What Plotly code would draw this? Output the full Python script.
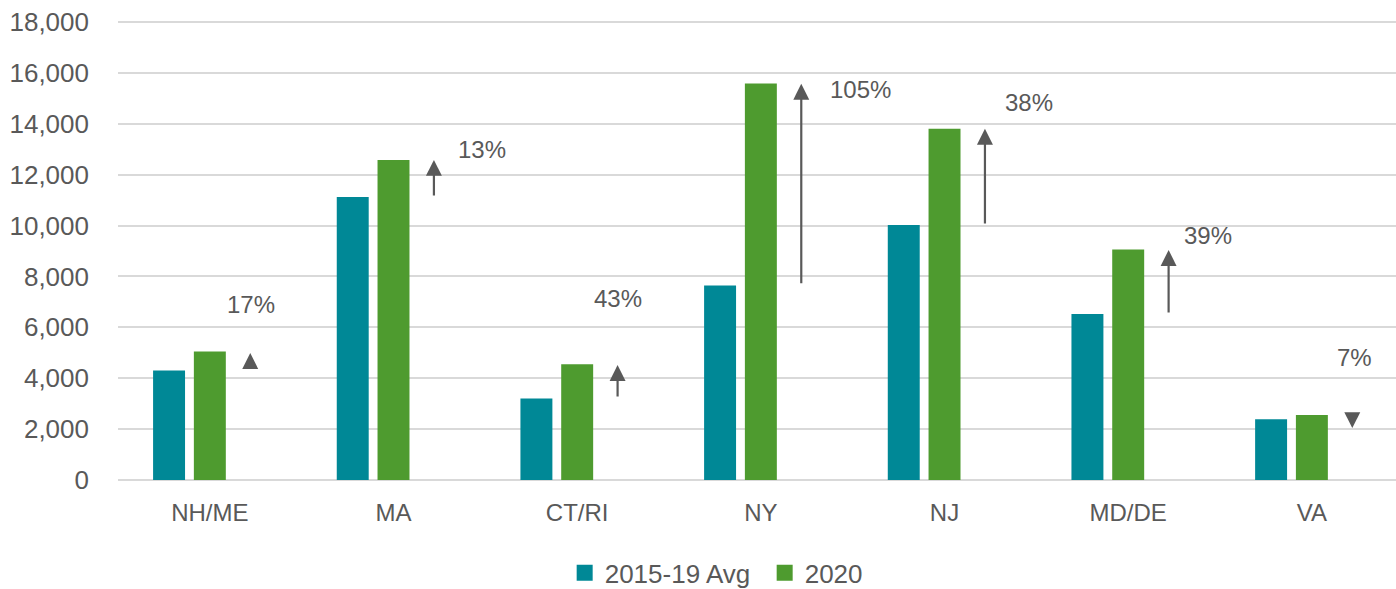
import plotly.graph_objects as go

# ---- data ----
categories = ["NH/ME", "MA", "CT/RI", "NY", "NJ", "MD/DE", "VA"]
avg_2015_19 = [4300, 11120, 3200, 7640, 10020, 6520, 2390]
val_2020 = [5050, 12580, 4550, 15580, 13800, 9060, 2550]
pct_labels = ["17%", "13%", "43%", "105%", "38%", "39%", "7%"]
# arrow tails/heads as drawn in the picture (VA arrow points down)
arrow_tail = [4320, 11120, 3220, 7670, 10020, 6520, 2620]
arrow_head = [4990, 12580, 4520, 15570, 13800, 9040, 2040]
# label anchor positions (category offset, value)
label_dx = [0.223, 0.48, 0.22, 0.545, 0.46, 0.435, 0.23]
label_y = [6880, 12970, 7150, 15330, 14820, 9590, 4830]
y_ticks = [0, 2000, 4000, 6000, 8000, 10000, 12000, 14000, 16000, 18000]

TEAL = "#008896"
GREEN = "#4E9B2F"
TXT = "#595959"
FONT = "Liberation Sans, Arial, sans-serif"

idx = list(range(len(categories)))
bw = 0.174
teal_c = -0.222
arrow_dx = 0.22

fig = go.Figure()
fig.add_trace(go.Bar(x=idx, y=avg_2015_19, width=bw, offset=teal_c - bw / 2,
                     marker=dict(color=TEAL, line=dict(width=0)),
                     showlegend=False, name="2015-19 Avg"))
fig.add_trace(go.Bar(x=idx, y=val_2020, width=bw, offset=-bw / 2,
                     marker=dict(color=GREEN, line=dict(width=0)),
                     showlegend=False, name="2020"))
# legend entries
fig.add_trace(go.Scatter(x=[None], y=[None], mode="markers", name="2015-19 Avg",
                         marker=dict(symbol="square", size=16, color=TEAL)))
fig.add_trace(go.Scatter(x=[None], y=[None], mode="markers", name="2020",
                         marker=dict(symbol="square", size=16, color=GREEN)))

annotations = []
for i in idx:
    annotations.append(dict(
        x=i + arrow_dx, y=arrow_head[i], ax=i + arrow_dx, ay=arrow_tail[i],
        xref="x", yref="y", axref="x", ayref="y", text="", showarrow=True,
        arrowhead=2, arrowsize=1.45, arrowwidth=2.2, arrowcolor=TXT))
    annotations.append(dict(
        x=i + label_dx[i], y=label_y[i], xref="x", yref="y", text=pct_labels[i],
        showarrow=False, font=dict(family=FONT, size=24, color=TXT)))

fig.update_layout(
    width=1396, height=589,
    margin=dict(l=118, r=0, t=20, b=109, autoexpand=False),
    paper_bgcolor="white", plot_bgcolor="white",
    barmode="overlay",
    font=dict(family=FONT, color=TXT),
    xaxis=dict(range=[-0.5, 6.458], tickvals=idx, ticktext=categories,
               showgrid=False, zeroline=False, showline=False, ticks="",
               tickfont=dict(family=FONT, size=24, color=TXT),
               ticklabelstandoff=16, automargin=False),
    yaxis=dict(range=[0, 18079], tickmode="array", tickvals=y_ticks,
               tickformat=",",
               showgrid=True, gridcolor="#D9D9D9", gridwidth=2,
               zeroline=True, zerolinecolor="#D9D9D9", zerolinewidth=2,
               showline=False, ticks="",
               tickfont=dict(family=FONT, size=26, color=TXT),
               ticklabelstandoff=28, automargin=False),
    legend=dict(orientation="h", x=0.506, xanchor="center", y=-0.202,
                yanchor="middle", font=dict(family=FONT, size=26, color=TXT),
                entrywidth=155, itemclick=False),
    annotations=annotations,
)

fig.write_html("out.html",
               config={"displayModeBar": False},
               post_script="document.body.style.margin='0px';"
                           "document.body.style.overflow='hidden';")
